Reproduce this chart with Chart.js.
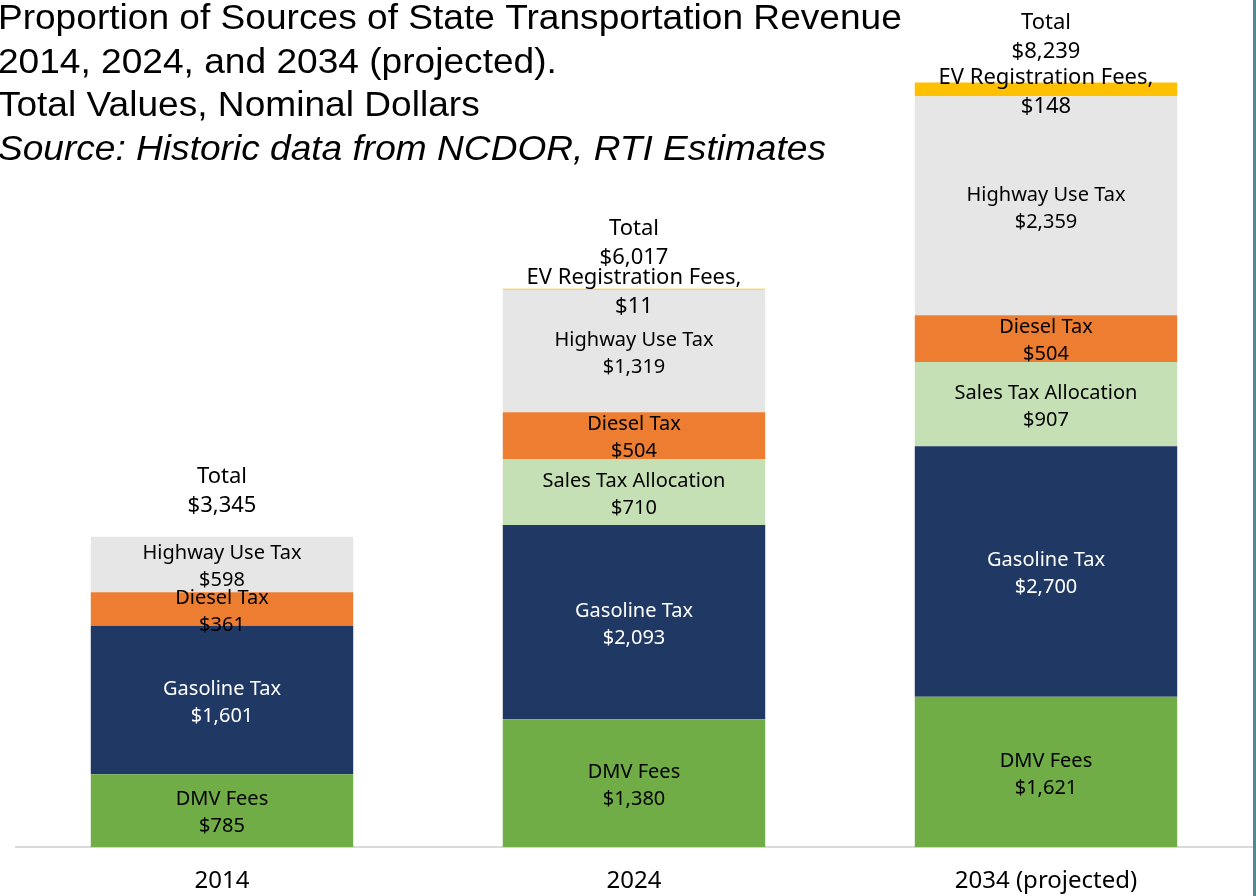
<!DOCTYPE html>
<html>
<head>
<meta charset="utf-8">
<script src="https://cdn.jsdelivr.net/npm/chart.js@4/dist/chart.umd.min.js"></script>
<style>
  html, body { margin: 0; padding: 0; background: #fff; }
  #wrap { position: relative; width: 1256px; height: 896px; overflow: hidden; }
  #edge { position: absolute; right: 0; top: 0; width: 3px; height: 896px; background: #4e8a90; }
</style>
</head>
<body>
<div id="wrap">
  <canvas id="revenue-chart" width="1256" height="919"></canvas>
  <div id="edge"></div>
</div>
<script>
// categories and series ($ millions, nominal)
const years = ['2014', '2024', '2034 (projected)'];
const dmvFees = [785, 1380, 1621];
const gasolineTax = [1601, 2093, 2700];
const salesTaxAllocation = [0, 710, 907];
const dieselTax = [361, 504, 504];
const highwayUseTax = [598, 1319, 2359];
const evRegistrationFees = [0, 11, 148];

const titleLines = [
    'Proportion of Sources of State Transportation Revenue',
    '2014, 2024, and 2034 (projected).',
    'Total Values, Nominal Dollars',
    'Source: Historic data from NCDOR, RTI Estimates'
];

const money = v => '$' + v.toLocaleString('en-US');

// segment labels + totals on top
const segmentLabels = {
    id: 'segmentLabels',
    afterDatasetsDraw(chart) {
        const ctx = chart.ctx;
        ctx.save();
        ctx.textAlign = 'center';
        ctx.textBaseline = 'middle';
        chart.data.datasets.forEach((ds, i) => {
            const meta = chart.getDatasetMeta(i);
            const big = ds.labelSize > 20;
            ctx.font = ds.labelSize + 'px "Noto Sans", sans-serif';
            meta.data.forEach((bar, j) => {
                const v = ds.data[j];
                if (!v) return;
                const mid = (bar.y + bar.base) / 2;
                ctx.fillStyle = ds.textColor;
                ctx.fillText(ds.label, bar.x, mid - (big ? 12 : 11));
                ctx.fillText(money(v), bar.x, mid + (big ? 17 : 16));
            });
        });
        // totals
        const y = chart.scales.y;
        ctx.font = '22px "Noto Sans", sans-serif';
        ctx.fillStyle = '#000';
        years.forEach((yr, j) => {
            const total = chart.data.datasets.reduce((s, ds) => s + ds.data[j], 0);
            const top = y.getPixelForValue(total);
            const x = chart.getDatasetMeta(0).data[j].x;
            ctx.fillText('Total', x, top - 60);
            ctx.fillText(money(total), x, top - 31);
        });
        ctx.restore();
    }
};

const titleBlock = {
    id: 'titleBlock',
    afterDraw(chart) {
        const ctx = chart.ctx;
        ctx.save();
        ctx.fillStyle = '#000';
        ctx.textAlign = 'left';
        ctx.textBaseline = 'alphabetic';
        ctx.scale(1.06, 1);
        titleLines.forEach((line, i) => {
            ctx.font = (i === 3 ? 'italic ' : '') + '35px "Liberation Sans", Arial, sans-serif';
            ctx.fillText(line, -2, 29 + i * 43.5);
        });
        ctx.restore();
    }
};

const makeSet = (label, data, color, textColor, labelSize) => ({
    label, data, backgroundColor: color, textColor, labelSize,
    borderWidth: 0, categoryPercentage: 1, barPercentage: 0.637
});

new Chart(document.getElementById('revenue-chart'), {
    type: 'bar',
    data: {
        labels: years,
        datasets: [
            makeSet('DMV Fees', dmvFees, '#70ad47', '#000', 20),
            makeSet('Gasoline Tax', gasolineTax, '#203864', '#fff', 20),
            makeSet('Sales Tax Allocation', salesTaxAllocation, '#c5e0b4', '#000', 20),
            makeSet('Diesel Tax', dieselTax, '#ed7d31', '#000', 20),
            makeSet('Highway Use Tax', highwayUseTax, '#e6e6e6', '#000', 20),
            makeSet('EV Registration Fees,', evRegistrationFees, '#ffc000', '#000', 22)
        ]
    },
    options: {
        responsive: false,
        animation: false,
        layout: { padding: { left: 16, right: 4, top: 12, bottom: 3 } },
        plugins: { legend: { display: false }, tooltip: { enabled: false }, title: { display: false } },
        scales: {
            x: {
                stacked: true,
                grid: { display: false, drawTicks: false },
                border: { display: true, color: '#d9d9d9', width: 2 },
                ticks: { color: '#000', font: { family: '"Noto Sans", sans-serif', size: 24 }, padding: 20 }
            },
            y: {
                stacked: true,
                display: false,
                min: 0,
                max: 9000
            }
        }
    },
    plugins: [segmentLabels, titleBlock]
});
</script>
</body>
</html>
